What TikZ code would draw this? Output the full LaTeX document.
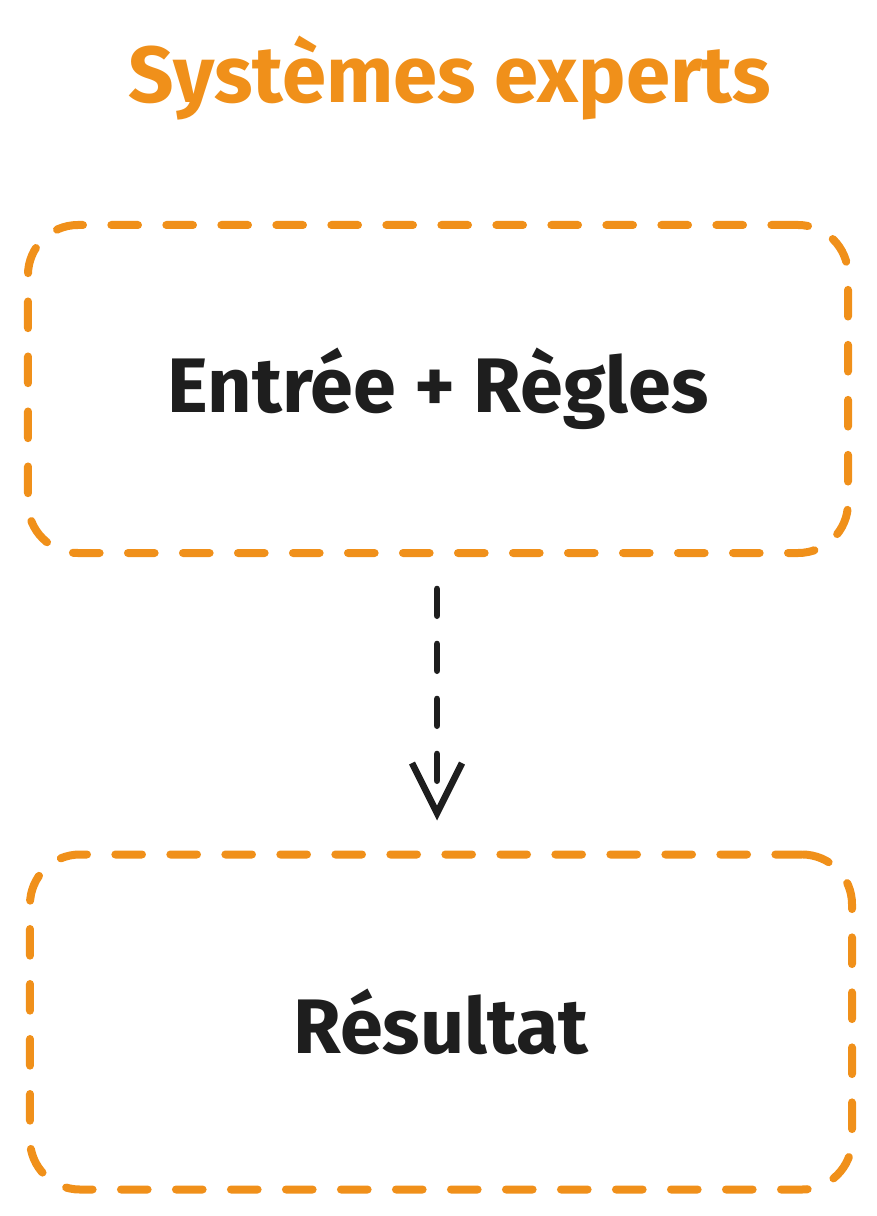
\documentclass[tikz,border=0pt]{standalone}
\usepackage{fontspec}
\setmainfont{Fira Sans}
\usetikzlibrary{arrows.meta,positioning}
\definecolor{expOrange}{HTML}{F0901A}
\definecolor{expInk}{HTML}{1E1E1E}
\tikzset{
  stepbox/.style={draw=expOrange, line width=0.24cm, rounded corners=1.5cm, line cap=round,
    dash pattern=on 0.8cm off 0.85cm, text=expInk, font=\fontsize{66}{78}\selectfont\bfseries},
  flowarrow/.style={draw=expInk, line width=0.2cm, line cap=round, dash pattern=on 0.8cm off 0.85cm,
    -{Straight Barb[length=1.5cm,width=1.5cm,line width=0.2cm]}}
}
\begin{document}
\begin{tikzpicture}[x=0.03cm,y=-0.03cm]
            \useasboundingbox (0,0) rectangle (876,1216);

            \node[text=expOrange, font=\fontsize{68}{80}\selectfont\bfseries] (title) at (450,78) {Systèmes experts};

            \node[stepbox, minimum width=24.6cm, minimum height=9.84cm] (rules) at (438,389) {Entrée + Règles};
            \node[stepbox, minimum width=24.66cm, minimum height=10.05cm] (result) at (441,1022) {Résultat};

            \draw[flowarrow, shorten <=0.96cm, shorten >=0.9cm] (rules.south -| 437,0) -- (result.north -| 437,0);
\end{tikzpicture}
\end{document}
